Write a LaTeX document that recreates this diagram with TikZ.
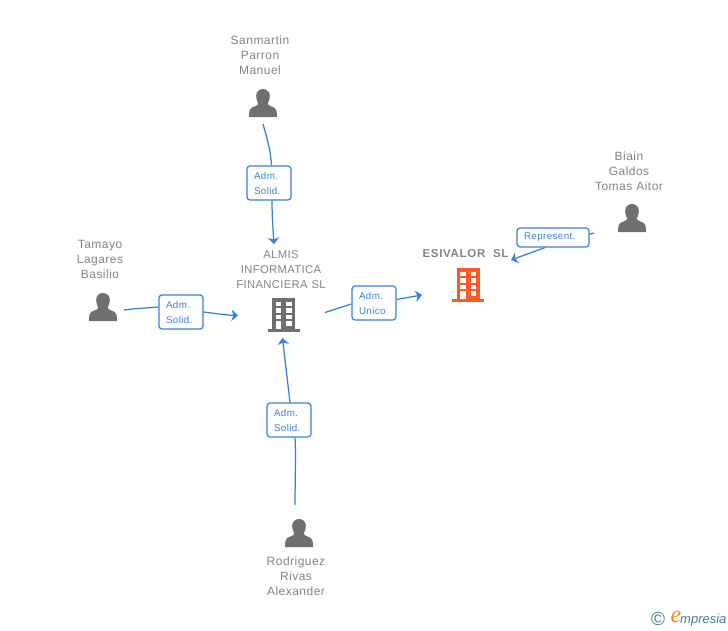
\documentclass[tikz,border=0pt]{standalone}
\usepackage{fontspec}
\setmainfont{Liberation Sans}
\newfontfamily\spacedfont[LetterSpace=4]{Liberation Sans}
\newfontfamily\firmfont[LetterSpace=3]{Liberation Sans}
\newfontfamily\boldspaced[LetterSpace=6]{Liberation Sans}
\newfontfamily\serifit{Liberation Serif}
\usetikzlibrary{arrows.meta}
\definecolor{txtgray}{HTML}{858585}
\definecolor{icongray}{HTML}{6F6F6F}
\definecolor{linkblue}{HTML}{3B7FDE}
\definecolor{hot}{HTML}{FF5A26}
\definecolor{logoteal}{HTML}{3F7F96}
\definecolor{logoorange}{HTML}{F08A1E}
\tikzset{
  x=1pt,y=-1pt,
  who/.style={text=txtgray,font=\fontsize{12}{15}\selectfont\spacedfont,align=center,inner sep=0pt,text width=100pt},
  firm/.style={who,font=\fontsize{11.3}{15}\selectfont\firmfont},
  role/.style={draw=linkblue,line width=1.2pt,rounded corners=3pt,fill=white,text=linkblue,
    font=\fontsize{9.8}{15}\selectfont\spacedfont,align=left,inner sep=0pt,minimum width=44pt,minimum height=34pt,text width=30pt},
  rep/.style={role,minimum width=72pt,minimum height=19pt,text width=58pt},
  link/.style={draw=linkblue,line width=1.25pt},
  tip/.style={-{Stealth[length=6.5pt,width=11.5pt,inset=2pt]}},
  iconbox/.style={inner sep=0pt,minimum width=28pt,minimum height=28pt}
}
\newcommand{\personicon}[1]{%
  \fill[icongray,shift={(#1)}]
    (0,-14) .. controls (4,-14) and (6.8,-11) .. (6.8,-7.5)
    .. controls (6.8,-3.5) and (5.5,-1) .. (4.8,0.5)
    .. controls (5,2.5) and (8.5,3.5) .. (11.5,4.8)
    .. controls (13.5,5.8) and (13.8,8) .. (14,14)
    -- (-14,14)
    .. controls (-13.8,8) and (-13.5,5.8) .. (-11.5,4.8)
    .. controls (-8.5,3.5) and (-5,2.5) .. (-4.8,0.5)
    .. controls (-5.5,-1) and (-6.8,-3.5) .. (-6.8,-7.5)
    .. controls (-6.8,-11) and (-4,-14) .. (0,-14) -- cycle;
}
\newcommand{\buildingicon}[2]{%
  \begin{scope}[shift={(#1)}]
    \fill[#2] (-11.5,-17) rectangle (11.5,14);
    \fill[#2] (-16,14) rectangle (16,17);
    \foreach \r in {-13.5,-7,-0.5}{
      \fill[white] (-8,\r) rectangle (-2.5,{\r+4.5});
      \fill[white] (2.5,\r) rectangle (8,{\r+4.5});
    }
    \fill[white] (-8,6) rectangle (-2.5,14);
    \fill[white] (2.5,6) rectangle (8,11);
  \end{scope}
}
\begin{document}
\begin{tikzpicture}
\useasboundingbox (0,0) rectangle (728,630);
\fill[white] (0,0) rectangle (728,630);

% icons
\personicon{263,103}
\personicon{103,307}
\personicon{299,533}
\personicon{632,218}
\buildingicon{283.5,315}{icongray}
\buildingicon{468,285}{hot}
\node[iconbox] (iconSan) at (263,103) {};
\node[iconbox] (iconTam) at (103,307) {};
\node[iconbox] (iconRod) at (299,533) {};
\node[iconbox] (iconBia) at (632,218) {};
\node[iconbox,minimum height=34pt] (iconAlm) at (283.5,315) {};
\node[iconbox,minimum height=34pt] (iconEsi) at (468,285) {};

% texts
\node[who] (lblSan) at (260,55) {Sanmartin\\Parron\\Manuel};
\node[who] (lblTam) at (100,259) {Tamayo\\Lagares\\Basilio};
\node[who] (lblRod) at (296,576) {Rodriguez\\Rivas\\Alexander};
\node[who] (lblBia) at (629,171) {Biain\\Galdos\\Tomas Aitor};
\node[firm] (lblAlm) at (281,269.5) {ALMIS\\INFORMATICA\\FINANCIERA SL};
\node[who,font=\fontsize{11.5}{15}\selectfont\boldspaced\bfseries] (lblEsi) at (465.5,254) {ESIVALOR\ \ SL};

% role labels
\node[role] (rSan) at (269,183) {Adm.\\Solid.};
\node[role] (rTam) at (181,312) {Adm.\\Solid.};
\node[role] (rUni) at (374,303) {Adm.\\Unico};
\node[role] (rRod) at (289,420) {Adm.\\Solid.};
\node[rep] (rBia) at (553,237.5) {\raisebox{-1.5pt}{Represent.}};

% free ends
\coordinate (sSan) at (263,124);
\coordinate (eSan) at (274,244);
\coordinate (sTam) at (124,310);
\coordinate (eTam) at (238,315.5);
\coordinate (sRod) at (295,505);
\coordinate (eRod) at (282.5,338);
\coordinate (sUni) at (325,312.5);
\coordinate (eUni) at (422,295);
\coordinate (sBia) at (594,233);
\coordinate (eBia) at (511,260);

% connectors
\draw[link] (sSan) .. controls (267,138) and (271,152) .. (rSan.north -| 271.5,166);
\draw[link,tip] (rSan.south -| 272,200) .. controls (272,215) and (273,230) .. (eSan);
\draw[link] (sTam) .. controls (135,308.5) and (147,308) .. (rTam.west |- 0,307);
\draw[link,tip] (rTam.east |- 0,312) .. controls (215,313.5) and (226,315) .. (eTam);
\draw[link] (sRod) .. controls (295,485) and (296,455) .. (rRod.south -| 295,437);
\draw[link,tip] (rRod.north -| 290,403) .. controls (288,385) and (285,360) .. (eRod);
\draw[link] (sUni) -- (rUni.west |- 0,304);
\draw[link,tip] (rUni.east |- 0,299.5) -- (eUni);
\draw[link] (sBia) -- (rBia.east |- 0,234);
\draw[link,tip] (rBia.south -| 545,247) -- (eBia);

% logo
\node[inner sep=0pt,text=logoteal,font=\fontsize{19}{19}\selectfont] (logoC) at (658,618.5) {©};
\node[inner sep=0pt,anchor=west,text=logoteal,font=\fontsize{13}{13}\selectfont\itshape] (logoT) at (680,620) {mpresia};
\node[inner sep=0pt,text=logoorange,font=\fontsize{24}{24}\selectfont\serifit\itshape] (logoE) at (676,617) {e};
\end{tikzpicture}
\end{document}
